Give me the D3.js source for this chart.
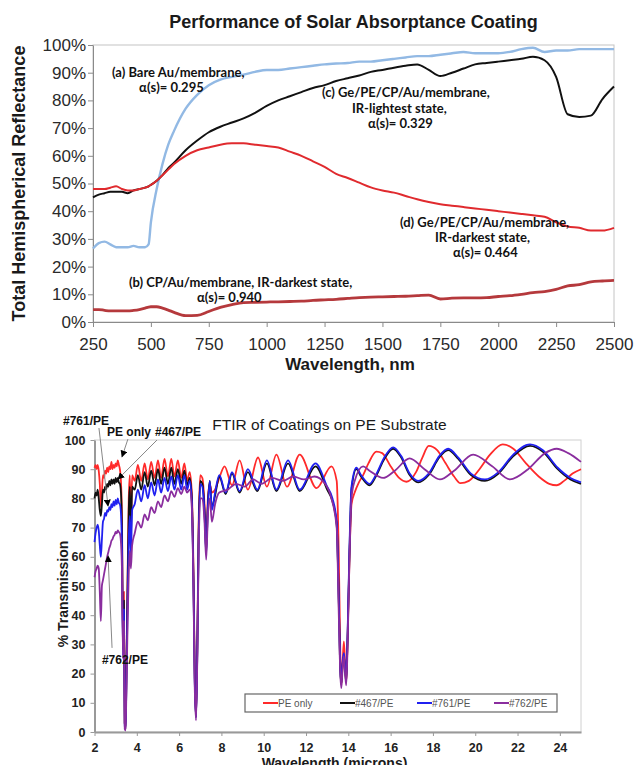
<!DOCTYPE html>
<html>
<head>
<meta charset="utf-8">
<script src="https://cdn.jsdelivr.net/npm/d3@7"></script>
<style>
  body { margin: 0; background: #fff; }
  svg { display: block; }
  .arial { font-family: Arial, "Liberation Sans", sans-serif; }
  .note { font-family: Lato, "Open Sans", sans-serif; font-weight: bold; font-size: 13px; fill: #111; }
  .fnote { font-family: Arial, "Liberation Sans", sans-serif; font-weight: bold; font-size: 12px; fill: #111; }
</style>
</head>
<body>
<svg width="634" height="765"></svg>
<script>
// ---------- top chart: solar reflectance (values in %) ----------
var nm = [250,275,300,325,350,375,400,425,450,475,490,500,525,550,575,600,650,700,750,800,850,900,950,1000,1050,1100,1150,1200,1250,1300,1350,1400,1450,1500,1550,1600,1650,1700,1750,1800,1850,1900,1950,2000,2050,2100,2150,2200,2250,2300,2350,2400,2450,2500];
var bareAu = [26.5,28.5,29,28,27,27,27,27.5,27,27,28,36,48,57,64,69,77,82,85.5,87.5,88.5,89.3,90.3,91,91,91.5,92,92.5,93,93.3,93.5,94,94,94.5,95,95.5,96,96,96.5,97,97.5,97,97,97,97.5,98.5,99,97.5,98,98,98.5,98.5,98.5,98.5];
var geLight = [45,46,46.5,47,47,47,46.5,47.5,48,48.5,49,49.5,51,53,55.5,57.5,62,65.5,68.5,70.5,72,73.5,75.5,78,80,81.5,83,84.5,85.5,87,88,89,90.3,91,91.8,92.5,93,91,88.8,90,91.5,93,93.5,94,94.5,95,95.8,94.5,88.5,75,74,74.5,80.5,85];
var geDark = [48,48,48,48.5,49,48,47.5,47.5,48,48.5,49,49.5,51,53,55,57,60,62,63,64,64.5,64.5,64,63.5,63,61.5,60,58,56,53.5,52,50.3,48.6,47.5,46.7,45.5,44.3,43.3,42.5,42,41.5,41,40.5,40,39.5,39,38.5,38,36,34.5,34,33,33,34];
var cpDark = [4.5,4.5,4.2,4,4,4,4,4.2,4.5,5,5.4,5.5,5.5,5,4.3,3.5,2.3,2.4,3.8,5.3,6.3,7,7.1,7.2,7.3,7.4,7.5,7.8,8,8.2,8.5,8.8,9,9.1,9.2,9.3,9.5,9.7,8.3,8.6,8.7,8.7,8.8,9.2,9.5,10,10.6,11,11.8,13,13.5,14.5,14.8,15];
var topTicksX = d3.range(250, 2501, 250);
var topTicksY = d3.range(0, 101, 10);

var topNotes = [
  {text: "(a) Bare Au/membrane,", x: 332, y: 88.4},
  {text: "\u03b1(s)= 0.295", x: 449, y: 83.0},
  {text: "(c) Ge/PE/CP/Au/membrane,", x: 1239, y: 81.4},
  {text: "IR-lightest state,", x: 1368, y: 75.5},
  {text: "\u03b1(s)= 0.329", x: 1438, y: 70.2},
  {text: "(d) Ge/PE/CP/Au/membrane,", x: 1576, y: 34.3},
  {text: "IR-darkest state,", x: 1727, y: 28.9},
  {text: "\u03b1(s)= 0.464", x: 1805, y: 23.5},
  {text: "(b) CP/Au/membrane, IR-darkest state,", x: 405, y: 12.6},
  {text: "\u03b1(s)= 0.940", x: 699, y: 7.2}
];

// ---------- bottom chart: FTIR transmission (%) ----------
// shared grid for the PE absorption region, 2 - 7.6 microns
var wlA = [2.0,2.05,2.1,2.15,2.2,2.25,2.3,2.35,2.4,2.45,2.5,2.55,2.6,2.65,2.7,2.75,2.8,2.85,2.9,2.95,3.0,3.05,3.1,3.15,3.2,3.25,3.3,3.35,3.39,3.43,3.47,3.51,3.56,3.62,3.67,3.72,3.78,3.9,4.05,4.21,4.37,4.52,4.68,4.84,5.0,5.15,5.31,5.47,5.63,5.78,5.94,6.1,6.25,6.38,6.5,6.6,6.68,6.74,6.8,6.86,6.92,7.0,7.1,7.2,7.28,7.36,7.45,7.55];
var peOnlyA = [90.5,91.5,90,91.5,89.5,85,77,82,88,87,89.5,88.5,90.5,89,91,90,92.5,90,91.5,90.5,92,91,93,91.5,90,86,72,30,48,3,1,22,50,80,88,70,88,86,91.5,86,92,86.5,92.5,87,93,87,93.5,87.5,93.5,87.5,93,87,92,86,89,82,55,20,6,30,70,88,87,78,64,80,85,82];
var s467A = [80,82,81,83,80,76,74,78,83,82,84,83,85,84,86,84.5,86.5,85,86.5,85,87,85.5,87,85.5,85,82,68,28,45,3,1,20,48,76,84,66,84,83,88,83,89,84,89.5,84.5,90,85,90.5,85,90.5,85,90,85,89.5,84.5,87,80,52,18,5,28,66,86,85,76,62,78,86,77];
var s761A = [65,68,70,71,69,64,60,66,72,73,75,74,76,75.5,77,76,78,77,79,77.5,79.5,78,80,78.5,78,75,62,26,42,2,1,18,42,66,74,60,76,78,83,79,84.5,80,85.5,81,86.5,82,87,82.5,87.5,83,88,83,88,83,86,79,50,17,5,27,64,85,84,75,61,77,86,76];
var s762A = [53,55,56,57,56,48,38,50,52,54,56,58,60,61.5,63,64,65.5,66,67,67.5,68.5,68,69,68.5,68,65,55,25,38,1,0.5,15,35,55,62,56,64,68,72,70,74.5,72.5,77,75,79,77,81,79,82.5,80.5,83.5,81.5,84,82,83,77,48,15,4,25,60,80,80,72,59,74,80,72];

// interference fringe region, 7.7 - 25 microns (own grid per series)
var peOnlyWlB = [7.7,7.9,8.15,8.5,8.86,9.25,9.73,10.15,10.6,11.1,11.7,12.5,13.2,13.45,13.55,13.62,13.67,13.73,13.79,13.85,13.9,13.96,14.05,14.15,14.3,14.5,14.7,14.95,15.33,15.6,16.0,16.4,16.75,17.2,17.5,17.8,18.2,18.6,19.0,19.3,19.7,20.2,20.7,21.3,21.8,22.4,23.0,23.5,23.85,24.2,24.6,25.0];
var peOnlyB = [83,87,91,84.5,93,83,94,84,95,84,95,83.5,91,86,60,28,16,24,31,23,17,30,58,78,82,85.5,88,92,96,95.5,91,87,85.7,89,94,98,96.5,92,87.5,85.2,86,90,95,98.5,97,92,87.5,85,84.5,86,88.5,90];
var coatWlB = [7.7,7.9,8.2,8.5,8.86,9.25,9.7,10.15,10.6,11.15,11.7,12.45,13.0,13.25,13.45,13.55,13.62,13.67,13.73,13.79,13.85,13.9,13.96,14.05,14.15,14.38,14.6,15.0,15.3,15.7,16.12,16.5,16.9,17.3,17.8,18.3,18.72,19.2,19.8,20.46,21.1,21.8,22.59,23.2,23.9,24.5,25.0];
var s467B = [81,87.5,81.5,88.5,82,89,82.5,92,82.5,92,82.5,91,83,79,71,44,21,16.5,23,26,21,17,31,60,83,90,87.5,84.5,87.5,93.5,97,94,88,85.5,88,94,96.5,93.5,88,86,88.5,94.5,98,96,90,86.5,85];
var s761B = [82,88,82,89,82.5,90,83,93,83,93,83,92,84,80,72,45,22,17,24,27,22,18,32,62,84,90.5,88,85,88,94,97.5,94.5,88.5,86,88.5,94.5,97,94,88.5,86.5,89,95,98.5,96.5,90.5,87,85.5];
var s762WlB = [7.7,7.9,8.3,8.7,9.1,9.5,9.9,10.4,10.9,11.4,11.9,12.4,12.9,13.2,13.45,13.55,13.62,13.67,13.73,13.79,13.85,13.9,13.96,14.05,14.15,14.3,14.7,15.0,15.64,16.2,16.9,17.6,18.33,19.0,19.9,20.8,21.64,22.5,23.3,23.85,24.4,25.0];
var s762B = [78,82,83,85,84,86.5,85,87,86,87.5,86.5,87.5,85,80,70,40,20,15,22,26,20,16,28,58,80,86,91,89.5,87,89.5,93.7,90,86.5,89.5,95,91,86.5,90,95.5,97,95.5,92.5];

var seriesNames = ["PE only", "#467/PE", "#761/PE", "#762/PE"];
var seriesColors = ["#ff2a2a", "#111111", "#2020f0", "#8a2d9e"];
var ftirTicksX = d3.range(2, 25, 2);
var ftirTicksY = d3.range(0, 101, 10);

var ftirNotes = [
  {text: "#761/PE", x: 0.51, y: 105.1, from: [2.21, 104.1], to: [2.64, 77.4]},
  {text: "PE only", x: 2.59, y: 101.4, from: [3.58, 100.3], to: [3.30, 94.2]},
  {text: "#467/PE", x: 4.86, y: 101.4, from: [4.955, 100], to: [3.11, 86.6]},
  {text: "#762/PE", x: 2.35, y: 23.3, from: [2.83, 28.8], to: [2.64, 60.3]}
];

var svg = d3.select("svg");

// ================= top chart =================
var xTop = d3.scaleLinear().domain([250, 2500]).range([93, 614]);
var yTop = d3.scaleLinear().domain([0, 100]).range([322, 45]);

svg.append("rect")
  .attr("x", xTop(250)).attr("y", yTop(100))
  .attr("width", xTop(2500) - xTop(250)).attr("height", yTop(0) - yTop(100))
  .style("fill", "none").style("stroke", "#c4c4c4");

var gyTop = svg.append("g")
  .attr("class", "arial")
  .attr("transform", "translate(" + xTop(250) + ",0)")
  .call(d3.axisLeft(yTop).tickValues(topTicksY).tickFormat(d => d + "%").tickSize(5).tickSizeOuter(0).tickPadding(2));
var gxTop = svg.append("g")
  .attr("class", "arial")
  .attr("transform", "translate(0," + yTop(0) + ")")
  .call(d3.axisBottom(xTop).tickValues(topTicksX).tickFormat(d3.format("d")).tickSize(5).tickSizeOuter(0).tickPadding(11));
[gyTop, gxTop].forEach(function(g) {
  g.select(".domain").style("stroke", "#8a8a8a");
  g.selectAll(".tick line").style("stroke", "#8a8a8a");
  g.selectAll(".tick text").style("font-size", "17px").style("fill", "#2a2a2a");
});

var topSeries = [
  {v: bareAu, color: "#92b9e4", w: 2.4},
  {v: geLight, color: "#111", w: 2},
  {v: geDark, color: "#e02a2e", w: 2},
  {v: cpDark, color: "#b5393c", w: 2.8}
];
var topLine = d3.line().curve(d3.curveMonotoneX)
  .x(d => xTop(d[0])).y(d => yTop(d[1]));
svg.append("g").selectAll("path")
  .data(topSeries).enter().append("path")
  .attr("d", d => topLine(d3.zip(nm, d.v)))
  .style("fill", "none")
  .style("stroke", d => d.color)
  .style("stroke-width", d => d.w)
  .style("stroke-linejoin", "round");

svg.append("g").selectAll("text")
  .data(topNotes).enter().append("text")
  .attr("class", "note")
  .attr("x", d => xTop(d.x)).attr("y", d => yTop(d.y))
  .text(d => d.text);

svg.append("text").attr("class", "arial")
  .attr("x", (xTop(250) + xTop(2500)) / 2).attr("y", 28)
  .attr("text-anchor", "middle")
  .style("font-size", "18px").style("font-weight", "bold").style("fill", "#1a1a1a")
  .text("Performance of Solar Absorptance Coating");
svg.append("text").attr("class", "arial")
  .attr("x", 350).attr("y", 370)
  .attr("text-anchor", "middle")
  .style("font-size", "17px").style("font-weight", "bold").style("fill", "#1a1a1a")
  .text("Wavelength, nm");
svg.append("text").attr("class", "arial")
  .attr("transform", "translate(25," + (yTop(0) + yTop(100)) / 2 + ") rotate(-90)")
  .attr("text-anchor", "middle")
  .style("font-size", "18px").style("font-weight", "bold").style("fill", "#1a1a1a")
  .text("Total Hemispherical Reflectance");

// ================= bottom chart =================
var xB = d3.scaleLinear().domain([2, 25]).range([94.5, 581]);
var yB = d3.scaleLinear().domain([0, 100]).range([732, 440]);

svg.append("rect")
  .attr("x", xB(2)).attr("y", yB(100))
  .attr("width", xB(25) - xB(2)).attr("height", yB(0) - yB(100))
  .style("fill", "none").style("stroke", "#d0d0d0");

var gyB = svg.append("g")
  .attr("class", "arial")
  .attr("transform", "translate(" + xB(2) + ",0)")
  .call(d3.axisLeft(yB).tickValues(ftirTicksY).tickSize(4).tickSizeOuter(0).tickPadding(5));
var gxB = svg.append("g")
  .attr("class", "arial")
  .attr("transform", "translate(0," + yB(0) + ")")
  .call(d3.axisBottom(xB).tickValues(ftirTicksX).tickSize(4).tickSizeOuter(0).tickPadding(7));
[gyB, gxB].forEach(function(g) {
  g.select(".domain").style("stroke", "#999").style("stroke-width", 2);
  g.selectAll(".tick line").style("stroke", "#999");
  g.selectAll(".tick text").style("font-size", "12.5px").style("font-weight", "bold").style("fill", "#222");
});

var ftir = [
  {wl: wlA.concat(peOnlyWlB), t: peOnlyA.concat(peOnlyB)},
  {wl: wlA.concat(coatWlB), t: s467A.concat(s467B)},
  {wl: wlA.concat(coatWlB), t: s761A.concat(s761B)},
  {wl: wlA.concat(s762WlB), t: s762A.concat(s762B)}
];
ftir.forEach((s, i) => { s.name = seriesNames[i]; s.color = seriesColors[i]; });

var ftirLine = d3.line().curve(d3.curveMonotoneX)
  .x(d => xB(d[0])).y(d => yB(d[1]));
svg.append("g").selectAll("path")
  .data(ftir).enter().append("path")
  .attr("d", d => ftirLine(d3.zip(d.wl, d.t)))
  .style("fill", "none")
  .style("stroke", d => d.color)
  .style("stroke-width", 1.8)
  .style("stroke-linejoin", "round");

// legend
var legX = d3.scalePoint().domain(seriesNames).range([263, 494]);
var legY = 703;
svg.append("rect")
  .attr("x", legX.range()[0] - 18).attr("y", legY - 9)
  .attr("width", legX.range()[1] - legX.range()[0] + 81).attr("height", 18)
  .style("fill", "#fff").style("stroke", "#666").style("stroke-width", 1.2);
var leg = svg.append("g").selectAll("g")
  .data(ftir).enter().append("g")
  .attr("transform", d => "translate(" + legX(d.name) + "," + legY + ")");
leg.append("line").attr("x1", 0).attr("x2", 15)
  .style("stroke", d => d.color).style("stroke-width", 2);
leg.append("text").attr("class", "arial")
  .attr("x", 15).attr("dy", "0.35em")
  .style("font-size", "10px").style("fill", "#555")
  .text(d => d.name);

// annotations with arrows
svg.append("defs").append("marker")
  .attr("id", "head").attr("viewBox", "0 0 10 10")
  .attr("refX", 9).attr("refY", 5)
  .attr("markerWidth", 7).attr("markerHeight", 7)
  .attr("orient", "auto")
  .append("path").attr("d", "M0,0L10,5L0,10z").style("fill", "#000");

svg.append("g").selectAll("line")
  .data(ftirNotes).enter().append("line")
  .attr("x1", d => xB(d.from[0])).attr("y1", d => yB(d.from[1]))
  .attr("x2", d => xB(d.to[0])).attr("y2", d => yB(d.to[1]))
  .style("stroke", "#888").style("stroke-width", 1)
  .attr("marker-end", "url(#head)");
svg.append("g").selectAll("text")
  .data(ftirNotes).enter().append("text")
  .attr("class", "fnote")
  .attr("x", d => xB(d.x)).attr("y", d => yB(d.y))
  .text(d => d.text);

svg.append("text").attr("class", "arial")
  .attr("x", 329.5).attr("y", 430)
  .attr("text-anchor", "middle")
  .style("font-size", "15.5px").style("fill", "#1a1a1a")
  .text("FTIR of Coatings on PE Substrate");
svg.append("text").attr("class", "arial")
  .attr("x", 334.5).attr("y", 768)
  .attr("text-anchor", "middle")
  .style("font-size", "14px").style("font-weight", "bold").style("fill", "#1a1a1a")
  .text("Wavelength (microns)");
svg.append("text").attr("class", "arial")
  .attr("transform", "translate(68,594) rotate(-90)")
  .attr("text-anchor", "middle")
  .style("font-size", "14px").style("font-weight", "bold").style("fill", "#1a1a1a")
  .text("% Transmission");
</script>
</body>
</html>
